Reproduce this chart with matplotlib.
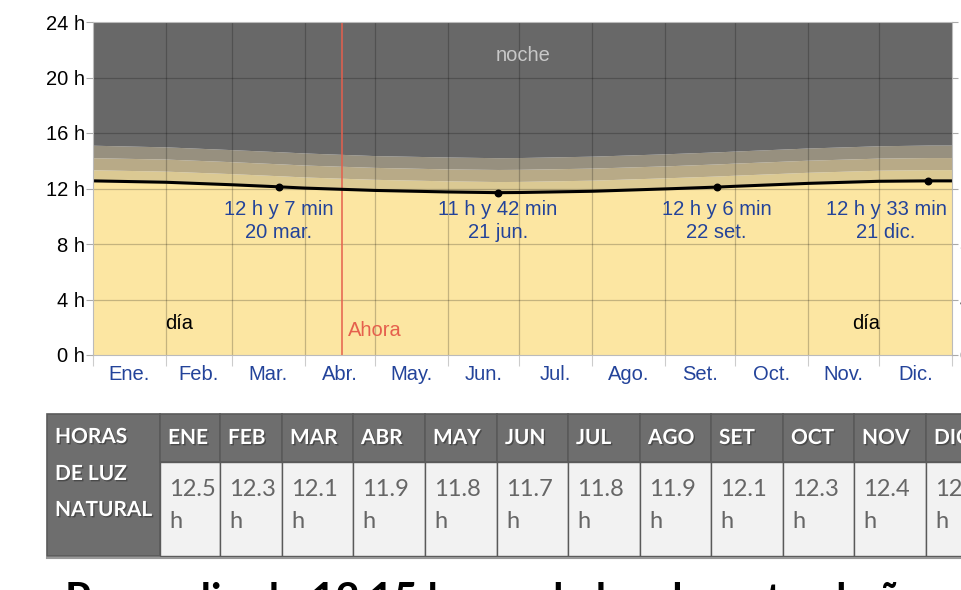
import numpy as np
import matplotlib
matplotlib.use("Agg")
import matplotlib.pyplot as plt
from matplotlib.patches import Rectangle
import matplotlib.patheffects as pe

# day of year for the sampled points
days = [0, 31, 59, 79, 90, 120, 151, 172, 181, 212, 243, 265, 273, 304, 334, 355, 365]
# hours of daylight and upper edges of the twilight bands
daylight = [12.55, 12.45, 12.27, 12.12, 12.03, 11.86, 11.75, 11.70, 11.71, 11.80, 11.97, 12.10, 12.16, 12.37, 12.52, 12.55, 12.55]
civil = [13.35, 13.25, 13.07, 12.92, 12.83, 12.66, 12.55, 12.50, 12.51, 12.60, 12.77, 12.90, 12.96, 13.17, 13.32, 13.36, 13.36]
nautical = [14.22, 14.12, 13.93, 13.78, 13.69, 13.52, 13.41, 13.37, 13.38, 13.47, 13.63, 13.77, 13.83, 14.04, 14.19, 14.23, 14.23]
astro = [15.12, 15.00, 14.80, 14.65, 14.56, 14.37, 14.27, 14.22, 14.23, 14.33, 14.50, 14.64, 14.70, 14.92, 15.08, 15.13, 15.13]

month_starts = [0, 31, 59, 90, 120, 151, 181, 212, 243, 273, 304, 334, 365]
month_labels = ["Ene.", "Feb.", "Mar.", "Abr.", "May.", "Jun.", "Jul.", "Ago.", "Set.", "Oct.", "Nov.", "Dic."]

key_days = [79, 172, 265, 355]
key_hours = [12 + 7 / 60, 11 + 42 / 60, 12 + 6 / 60, 12 + 33 / 60]
key_text = ["12 h y 7 min\n20 mar.", "11 h y 42 min\n21 jun.", "12 h y 6 min\n22 set.", "12 h y 33 min\n21 dic."]
now_day = 106

table_months = ["ENE", "FEB", "MAR", "ABR", "MAY", "JUN", "JUL", "AGO", "SET", "OCT", "NOV", "DIC"]
table_hours = [12.5, 12.3, 12.1, 11.9, 11.8, 11.7, 11.8, 11.9, 12.1, 12.3, 12.4, 12.5]

W, H = 961, 590
fig = plt.figure(figsize=(W / 100, H / 100), dpi=100)
fig.patch.set_facecolor("white")
plt.rcParams["font.family"] = ["Liberation Sans", "DejaVu Sans"]
fs = 14.5

ax = fig.add_axes([93 / W, 1 - 355 / H, 859 / W, 333 / H])
ax.set_xlim(0, 365)
ax.set_ylim(0, 24)

ax.fill_between(days, 0, daylight, color="#fce6a2", lw=0)
ax.fill_between(days, daylight, civil, color="#dbc993", lw=0)
ax.fill_between(days, civil, nautical, color="#b8aa87", lw=0)
ax.fill_between(days, nautical, astro, color="#97907f", lw=0)
ax.fill_between(days, astro, 24, color="#686868", lw=0)

for d in month_starts[1:-1]:
    ax.axvline(d, color="black", alpha=0.22, lw=0.9)
for h in range(4, 24, 4):
    ax.axhline(h, color="black", alpha=0.22, lw=0.9)

ax.axvline(now_day, color="#e5604d", lw=1.1)
ax.plot(days, daylight, color="black", lw=2.2, solid_capstyle="butt")
ax.scatter(key_days, key_hours, s=22, color="black", zorder=5)

blue = "#23439a"
for d, txt in zip(key_days, key_text):
    # keep the December label inside the plot
    ax.text(min(d, 337), 9.65, txt, ha="center", va="center", color=blue,
            fontsize=fs, linespacing=1.3)

ax.text(182.7, 21.6, "noche", ha="center", va="center", color="#c8c8c8", fontsize=fs)
ax.text(36.5, 2.3, "día", ha="center", va="center", color="black", fontsize=fs)
ax.text(328.5, 2.3, "día", ha="center", va="center", color="black", fontsize=fs)
ax.text(now_day + 2.2, 1.73, "Ahora", ha="left", va="center", color="#e5604d", fontsize=fs)

ax.set_yticks(range(0, 25, 4))
ax.set_yticklabels([f"{h} h" for h in range(0, 25, 4)], fontsize=fs)
ax.tick_params(axis="y", length=5, width=0.8, color="#aaaaaa", pad=1)
centers = [(a + b) / 2 for a, b in zip(month_starts[:-1], month_starts[1:])]
ax.set_xticks(centers)
ax.set_xticklabels(month_labels, fontsize=fs, color=blue)
ax.set_xticks(month_starts, minor=True)
ax.tick_params(axis="x", which="major", length=0, pad=7)
ax.tick_params(axis="x", which="minor", length=8, width=0.8, color="#cccccc")
for s in ax.spines.values():
    s.set_color("#bbbbbb")
    s.set_linewidth(0.8)

# right-hand hour labels, mostly outside the canvas
ax2 = ax.twinx()
ax2.set_ylim(0, 24)
ax2.set_yticks(range(0, 25, 4))
ax2.set_yticklabels([f"{h} h" for h in range(0, 25, 4)], fontsize=fs)
ax2.tick_params(axis="y", length=4, color="#aaaaaa", pad=2)
for s in ax2.spines.values():
    s.set_visible(False)

# table of monthly daylight hours
tab = fig.add_axes([0, 0, 1, 1])
tab.set_xlim(0, W)
tab.set_ylim(H, 0)
tab.axis("off")
tab.patch.set_alpha(0)

col_edges = [47, 160, 220, 282, 353, 425, 497, 568, 640, 711, 783, 854, 926, 998]
top, mid, bottom = 414, 462, 556
head_bg = "#6e6e6e"
line_c = "#5a5a5a"
shadow = [pe.withSimplePatchShadow(offset=(1, -1), shadow_rgbFace="#333333", alpha=0.6)]

tab.add_patch(Rectangle((col_edges[0], top), col_edges[1] - col_edges[0], bottom - top,
                        facecolor=head_bg, edgecolor=line_c, lw=1.2))
for txt, y in zip(["HORAS", "DE LUZ", "NATURAL"], [437, 474, 510]):
    tab.text(55, y, txt, ha="left", va="center", color="white", fontsize=15,
             fontweight="bold", family="Lato", path_effects=shadow)

for i, (m, v) in enumerate(zip(table_months, table_hours)):
    x0, x1 = col_edges[i + 1], col_edges[i + 2]
    tab.add_patch(Rectangle((x0, top), x1 - x0, mid - top, facecolor=head_bg,
                            edgecolor=line_c, lw=1.2))
    tab.add_patch(Rectangle((x0, mid), x1 - x0, bottom - mid, facecolor="#f2f2f2",
                            edgecolor=line_c, lw=1.0))
    tab.text(x0 + 8, 438, m, ha="left", va="center", color="white", fontsize=15,
             fontweight="bold", family="Lato", path_effects=shadow)
    tab.text(x0 + 9, 489, f"{v:.1f}", ha="left", va="center", color="#666666",
             fontsize=17, family="Lato")
    tab.text(x0 + 9, 522, "h", ha="left", va="center", color="#666666",
             fontsize=17, family="Lato")
tab.plot([col_edges[0], W], [bottom + 1.5, bottom + 1.5], color="#999999", lw=1.5)

tab.text(65, 582, "Promedio de 12.15 horas de luz durante el año", ha="left", va="top",
         fontsize=30, fontweight="bold", family="Lato", color="black")

fig.savefig("out.png", dpi=100)
